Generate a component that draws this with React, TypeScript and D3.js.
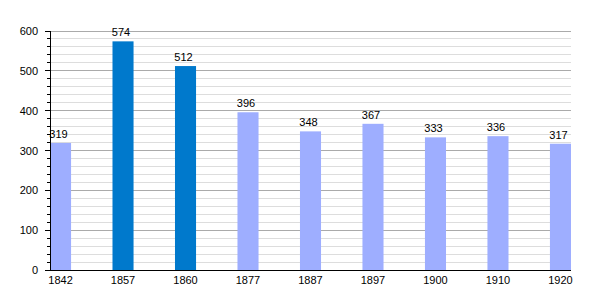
import React from "react";
import * as d3 from "d3";

const years = ["1842", "1857", "1860", "1877", "1887", "1897", "1900", "1910", "1920"];
const population = [319, 574, 512, 396, 348, 367, 333, 336, 317];
const highlighted = ["1857", "1860"];
const yTicks = [0, 100, 200, 300, 400, 500, 600];

export default function App() {
  const W = 600, H = 300;
  const left = 50, right = 571, top = 31, bottom = 270;
  const x = d3.scaleBand<string>().domain(years).range([left, right]).paddingInner(0.663).paddingOuter(0);
  const y = d3.scaleLinear().domain([0, 600]).range([bottom, top]);
  const minor = d3.range(0, 601, 20);
  const font = "'Liberation Sans', Arial, sans-serif";
  return (
    <svg width={W} height={H} style={{ position: "absolute", left: 0, top: 0, background: "#fff" }} fontFamily={font}>
      {minor.map((v) => (
        <line key={"g" + v} x1={left} x2={right} y1={y(v)} y2={y(v)}
          stroke={v % 100 === 0 ? "#aaaaaa" : "#dddddd"} strokeWidth={1} shapeRendering="crispEdges" />
      ))}
      {minor.map((v) => (
        <line key={"t" + v} x1={v % 100 === 0 ? left - 5 : left - 3} x2={left} y1={y(v)} y2={y(v)}
          stroke="#000" strokeWidth={1} shapeRendering="crispEdges" />
      ))}
      {years.map((yr, i) => (
        <rect key={yr} x={x(yr)} y={y(population[i])} width={x.bandwidth()} height={bottom - y(population[i])}
          fill={highlighted.includes(yr) ? "#0079cc" : "#9eaeff"} />
      ))}
      <line x1={left} x2={left} y1={top} y2={bottom} stroke="#000" shapeRendering="crispEdges" />
      <line x1={left} x2={right} y1={bottom} y2={bottom} stroke="#000" shapeRendering="crispEdges" />
      {yTicks.map((v) => (
        <text key={"yl" + v} x={left - 12} y={y(v) + 4} fontSize={11} textAnchor="end" fill="#000">{v}</text>
      ))}
      {years.map((yr, i) => (
        <text key={"xl" + yr} x={(x(yr) as number) + x.bandwidth() / 2} y={284} fontSize={11} textAnchor="middle" fill="#000">{yr}</text>
      ))}
      {years.map((yr, i) => (
        <text key={"vl" + yr} x={(x(yr) as number) + x.bandwidth() / 2 - 2} y={y(population[i]) - 5} fontSize={11} textAnchor="middle" fill="#000">{population[i]}</text>
      ))}
    </svg>
  );
}
